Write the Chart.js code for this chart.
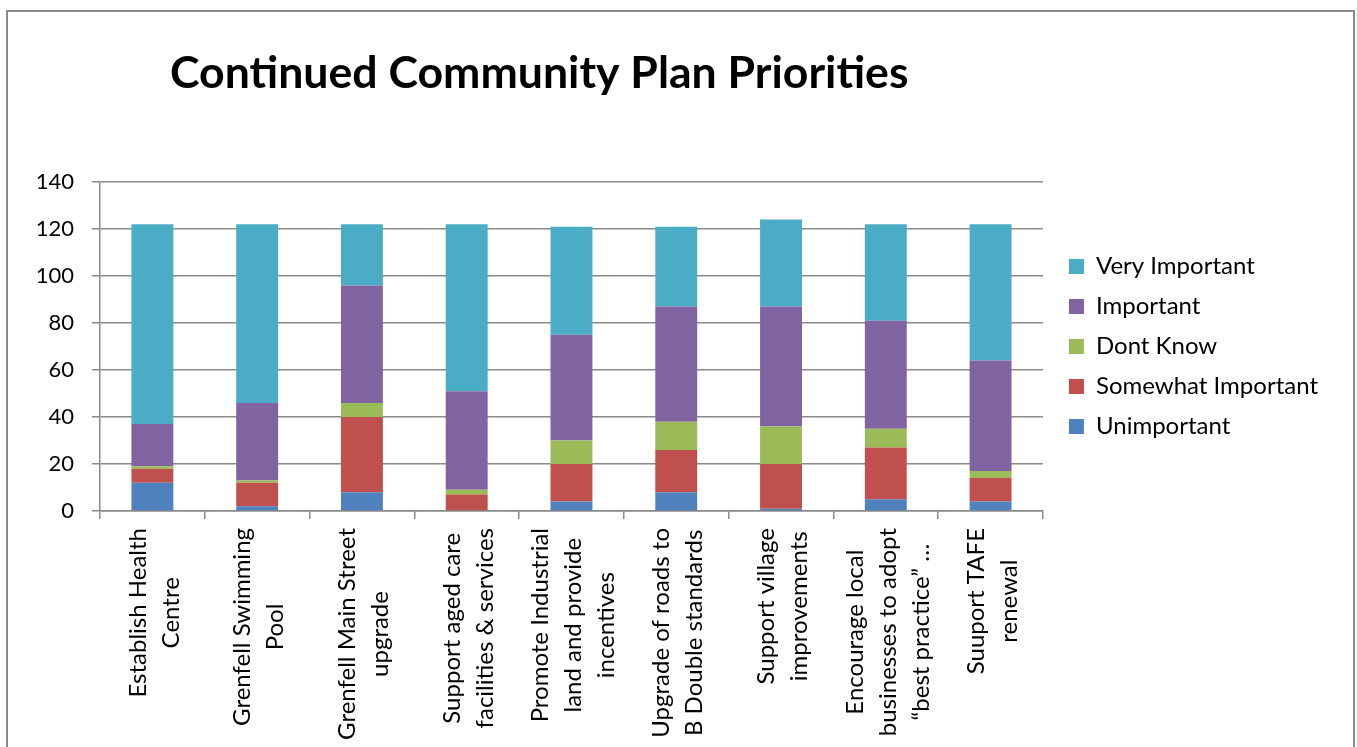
<!DOCTYPE html>
<html>
<head>
<meta charset="utf-8">
<title>Continued Community Plan Priorities</title>
<script src="https://cdn.jsdelivr.net/npm/chart.js@4.4.1/dist/chart.umd.min.js"></script>
<style>
  html, body { margin: 0; padding: 0; background: #fff; overflow: hidden; }
  #frame {
    position: absolute; left: 6px; top: 10px;
    width: 1345px; height: 780px;
    border: 2px solid #8c8c8c;
  }
  #chart { position: absolute; left: 0; top: 0; }
</style>
</head>
<body>
<div id="frame"></div>
<canvas id="chart" width="1357" height="747"></canvas>
<script>
// categories, one entry per bar (each entry = lines of the rotated label)
const categories = [
  ["Establish Health", "Centre"],
  ["Grenfell Swimming", "Pool"],
  ["Grenfell Main Street", "upgrade"],
  ["Support aged care", "facilities & services"],
  ["Promote Industrial", "land and provide", "incentives"],
  ["Upgrade of roads to", "B Double standards"],
  ["Support village", "improvements"],
  ["Encourage local", "businesses to adopt", "\u201cbest practice\u201d \u2026"],
  ["Suuport TAFE", "renewal"],
]

// series values
const unimportant = [12, 2, 8, 0, 4, 8, 1, 5, 4]
const somewhatImportant = [6, 10, 32, 7, 16, 18, 19, 22, 10]
const dontKnow = [1, 1, 6, 2, 10, 12, 16, 8, 3]
const important = [18, 33, 50, 42, 45, 49, 51, 46, 47]
const veryImportant = [85, 76, 26, 71, 46, 34, 37, 41, 58]

const yTicks = [0, 20, 40, 60, 80, 100, 120, 140]

const titleText = "Continued Community Plan Priorities"
const gridColor = "#8a8a8a"

// chart title, left aligned like the original
const titlePlugin = {
  id: "titleText",
  afterDraw(chart) {
    const ctx = chart.ctx
    ctx.save()
    ctx.font = "bold 44.6px Lato"
    ctx.fillStyle = "#000"
    ctx.textAlign = "left"
    ctx.textBaseline = "alphabetic"
    ctx.fillText(titleText, 170, 88)
    ctx.restore()
  },
}

// rotated category labels, lines centred on each tick
const xLabelsPlugin = {
  id: "xLabels",
  afterDraw(chart) {
    const { ctx } = chart
    const x = chart.scales.x
    const lineHeight = 33
    ctx.save()
    ctx.font = "24px Lato"
    ctx.fillStyle = "#000"
    ctx.textAlign = "center"
    ctx.textBaseline = "middle"
    categories.forEach((lines, i) => {
      const px = x.getPixelForValue(i)
      const longest = Math.max(...lines.map((l) => ctx.measureText(l).width))
      const cy = chart.chartArea.bottom + 17 + longest / 2
      lines.forEach((line, j) => {
        const cx = px + 2 + (j - (lines.length - 1) / 2) * lineHeight
        ctx.save()
        ctx.translate(cx, cy)
        ctx.rotate(-Math.PI / 2)
        ctx.fillText(line, 0, 0)
        ctx.restore()
      })
    })
    ctx.restore()
  },
}

// push the legend a bit away from the plot
const legendShift = {
  id: "legendShift",
  afterLayout(chart) {
    chart.legend.left += 10
    chart.legend.right += 10
  },
}

new Chart(document.getElementById("chart").getContext("2d"), {
  type: "bar",
  data: {
    labels: categories,
    datasets: [
      { label: "Unimportant", data: unimportant, backgroundColor: "#4F81BD" },
      { label: "Somewhat Important", data: somewhatImportant, backgroundColor: "#C0504D" },
      { label: "Dont Know", data: dontKnow, backgroundColor: "#9BBB59" },
      { label: "Important", data: important, backgroundColor: "#8064A2" },
      { label: "Very Important", data: veryImportant, backgroundColor: "#4BACC6" },
    ],
  },
  options: {
    responsive: false,
    animation: false,
    devicePixelRatio: 1,
    datasets: {
      bar: { categoryPercentage: 1, barPercentage: 0.4, borderWidth: 0 },
    },
    layout: {
      padding: { top: 182, bottom: 228, left: 0, right: 39 },
    },
    plugins: {
      title: { display: false },
      tooltip: { enabled: false },
      legend: {
        position: "right",
        fullSize: false,
        reverse: true,
        labels: {
          color: "#000",
          font: { family: "Lato", size: 24 },
          boxWidth: 15,
          boxHeight: 15,
          padding: 16,
        },
      },
    },
    scales: {
      x: {
        stacked: true,
        ticks: { display: false },
        grid: {
          offset: true,
          drawOnChartArea: false,
          drawTicks: true,
          tickLength: 8,
          color: gridColor,
          lineWidth: 1.5,
        },
        border: { color: gridColor, width: 1.5 },
      },
      y: {
        stacked: true,
        min: yTicks[0],
        max: yTicks[yTicks.length - 1],
        afterFit(scale) {
          scale.width = 100
        },
        afterBuildTicks(scale) {
          scale.ticks = yTicks.map((v) => ({ value: v }))
        },
        ticks: {
          color: "#000",
          font: { family: "Lato", size: 22 },
          padding: 18,
        },
        grid: {
          color: gridColor,
          lineWidth: 1.5,
          tickLength: 8,
        },
        border: { color: gridColor, width: 1.5 },
      },
    },
  },
  plugins: [titlePlugin, xLabelsPlugin, legendShift],
})
</script>
</body>
</html>
